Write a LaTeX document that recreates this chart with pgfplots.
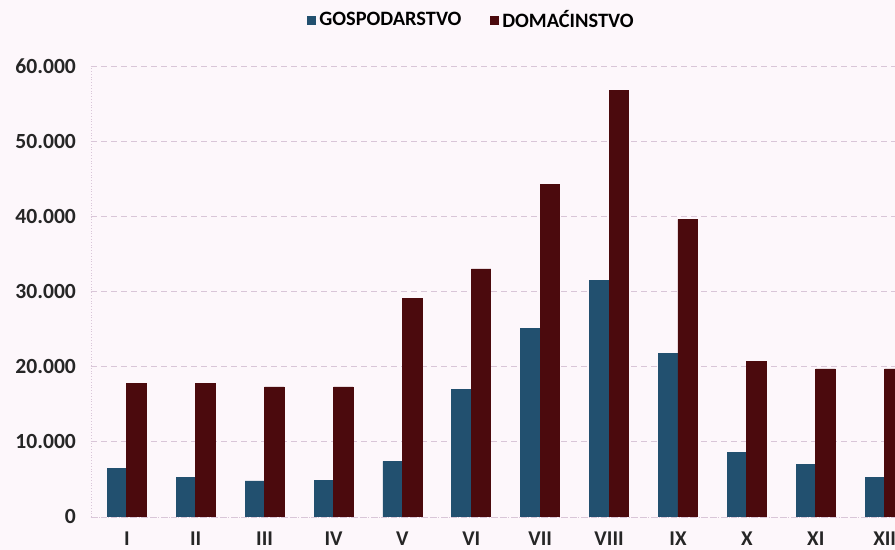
\documentclass[border=0pt]{standalone}
\usepackage{fontspec}
\setmainfont{Carlito}
\usepackage{pgfplots}
\pgfplotsset{compat=1.18}
\definecolor{gblue}{HTML}{22506F}
\definecolor{dred}{HTML}{4B0A0D}
\definecolor{gridc}{HTML}{D9C6D8}
\definecolor{bgc}{HTML}{FDF7FB}
\begin{document}
\begin{tikzpicture}
\fill[bgc] (0,0) rectangle (447.5pt,275pt);
\begin{axis}[
  at={(45.5pt,16.5pt)}, anchor=south west,
  scale only axis, width=402pt, height=225.5pt,
  ybar=0pt, bar width=9.75pt,
  xmin=-0.52, xmax=11.15,
  ymin=0, ymax=60000,
  ytick={0,10000,...,60000},
  xtick=data,
  xticklabels={I,II,III,IV,V,VI,VII,VIII,IX,X,XI,XII},
  /pgf/number format/.cd, fixed, 1000 sep={.}, assume math mode=true,
  /pgfplots/.cd,
  scaled y ticks=false,
  yticklabel style={font=\bfseries\fontsize{10.8}{12}\selectfont, text=black!85, xshift=-4pt},
  xticklabel style={font=\bfseries\fontsize{10.5}{12}\selectfont, text=black!85, yshift=-1pt},
  x tick style={draw=none},
  y tick style={draw=gridc, thin},
  major tick length=3pt,
  ymajorgrids, grid style={gridc, densely dashed, thin},
  axis x line*=bottom, axis y line*=left,
  axis line style={draw=gridc, densely dotted, thin, -},
  legend style={at={(0.474,1.102)}, anchor=center, draw=none, fill=none,
    legend columns=2, font=\bfseries\fontsize{10.2}{12}\selectfont,
    /tikz/every even column/.append style={column sep=12pt}},
  legend image code/.code={\fill[#1] (0pt,-2pt) rectangle (4pt,2pt);},
]
\addplot[fill=gblue, draw=gblue] coordinates {
 (0,6400) (1,5300) (2,4800) (3,4900) (4,7400) (5,17000)
 (6,25100) (7,31500) (8,21800) (9,8600) (10,7000) (11,5300)
};
\addplot[fill=dred, draw=dred] coordinates {
 (0,17800) (1,17800) (2,17300) (3,17300) (4,29100) (5,33000)
 (6,44300) (7,56800) (8,39600) (9,20700) (10,19700) (11,19700)
};
\legend{GOSPODARSTVO, DOMAĆINSTVO}
\end{axis}
\pgfresetboundingbox
\path (0,0) rectangle (447.5pt,275pt);
\end{tikzpicture}
\end{document}
